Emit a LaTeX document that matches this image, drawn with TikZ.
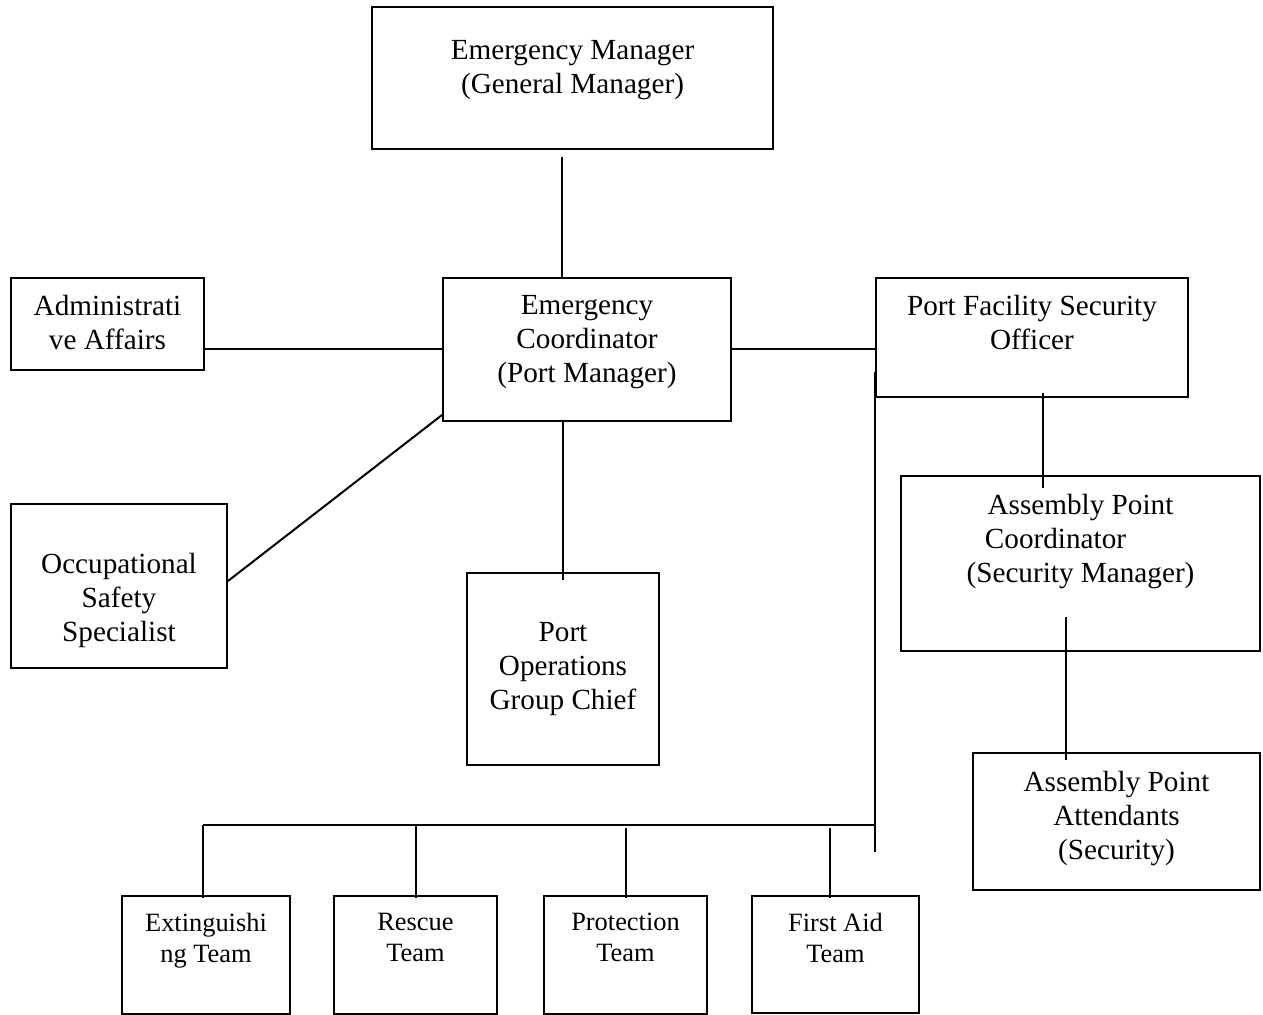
\documentclass[tikz,border=0pt]{standalone}
\usepackage{fontspec}
\setmainfont{Liberation Serif}
\usepackage{tikz}
\usetikzlibrary{calc}

\tikzset{
  box/.style={draw, line width=1pt, anchor=north west, inner sep=0pt},
  lbl/.style={anchor=north, align=center, inner sep=0pt,
    font=\fontsize{14.6pt}{17pt}\selectfont},
  teamlbl/.style={anchor=north, align=center, inner sep=0pt,
    font=\fontsize{13.2pt}{15.5pt}\selectfont},
  link/.style={line width=1pt}
}

\begin{document}
\begin{tikzpicture}[x=0.5pt, y=-0.5pt]

\useasboundingbox (0,0) rectangle (1263,1015);

% Top level
\node[box, minimum width=200.5pt, minimum height=71pt,
  label={[lbl, yshift=-17pt]north:{Emergency Manager\\(General Manager)}}]
  (em) at (371,6) {};

% Second level
\node[box, minimum width=144pt, minimum height=71.5pt,
  label={[lbl, yshift=-9pt]north:{Emergency\\Coordinator\\(Port Manager)}}]
  (ec) at (442,277) {};
\node[box, minimum width=96.5pt, minimum height=46pt,
  label={[lbl, yshift=-9pt]north:{Administrati\\ve Affairs}}]
  (aa) at (10,277) {};
\node[box, minimum width=156pt, minimum height=59.5pt,
  label={[lbl, yshift=-9pt]north:{Port Facility Security\\Officer}}]
  (pfso) at (875,277) {};

% Staff under the coordinator
\node[box, minimum width=108pt, minimum height=82pt,
  label={[lbl, yshift=-25pt]north:{Occupational\\Safety\\Specialist}}]
  (oss) at (10,503) {};
\node[box, minimum width=96pt, minimum height=96pt,
  label={[lbl, yshift=-25pt]north:{Port\\Operations\\Group Chief}}]
  (pogc) at (466,572) {};

% Assembly point
\node[box, minimum width=179.5pt, minimum height=87.5pt,
  label={[lbl, yshift=-9.5pt]north:{Assembly Point\\Coordinator\hspace*{25pt}\mbox{}\\(Security Manager)}}]
  (apc) at (900,475) {};
\node[box, minimum width=143.5pt, minimum height=68.5pt,
  label={[lbl, yshift=-9.5pt]north:{Assembly Point\\Attendants\\(Security)}}]
  (apa) at (972,752) {};

% Teams
\node[box, minimum width=84pt, minimum height=59pt,
  label={[teamlbl, yshift=-9pt]north:{Extinguishi\\ng Team}}]
  (ext) at (121,895) {};
\node[box, minimum width=81.5pt, minimum height=59pt,
  label={[teamlbl, yshift=-9pt]north:{Rescue\\Team}}]
  (res) at (333,895) {};
\node[box, minimum width=81.5pt, minimum height=59pt,
  label={[teamlbl, yshift=-9pt]north:{Protection\\Team}}]
  (pro) at (543,895) {};
\node[box, minimum width=83.5pt, minimum height=58.5pt,
  label={[teamlbl, yshift=-9pt]north:{First Aid\\Team}}]
  (fa) at (751,895) {};

% Helper points
\coordinate (emfoot) at (562,157);
\coordinate (rowEC) at (0,349);
\coordinate (trunktop) at (875,372);
\coordinate (trunkend) at (875,852);
\coordinate (barL) at (203,825);
\coordinate (fadrop) at (830,828);
\coordinate (pfsofoot) at (1043,393);
\coordinate (apcfoot) at (1066,617);

% Connectors
\draw[link] (emfoot) -- (emfoot |- ec.north);
\draw[link] (aa.east |- rowEC) -- (ec.west |- rowEC);
\draw[link] (ec.east |- rowEC) -- (pfso.west |- rowEC);
\draw[link] ($(ec.south west)+(0,-7)$) -- ($(oss.east)+(0,-5)$);
\draw[link] (pogc.north |- ec.south) -- ($(pogc.north)+(0,8)$);

% Trunk to the teams
\draw[link] (trunktop) -- (trunkend);
\draw[link] (barL) -- (barL -| trunktop);
\draw[link] (barL) -- ($(ext.north -| barL)+(0,3)$);
\draw[link] (res.north |- barL) -- ($(res.north)+(0,3)$);
\draw[link] ($(pro.north |- barL)+(0,3)$) -- ($(pro.north)+(0,3)$);
\draw[link] (fadrop) -- ($(fa.north -| fadrop)+(0,3)$);

% Security chain
\draw[link] (pfsofoot) -- ($(pfsofoot |- apc.north)+(0,13)$);
\draw[link] (apcfoot) -- ($(apcfoot |- apa.north)+(0,8)$);

\end{tikzpicture}
\end{document}
